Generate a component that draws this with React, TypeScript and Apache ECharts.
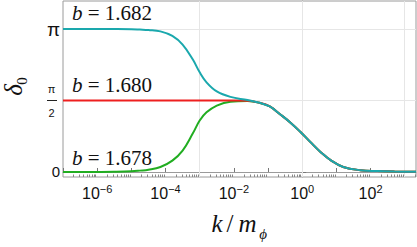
import React, { useEffect, useRef } from 'react';
import * as echarts from 'echarts';

// x values are log10(k / m_phi)
const logK = [-7, -6, -5.5, -5, -4.75, -4.5, -4.15, -3.8, -3.5, -3.2, -3.0, -2.8, -2.5, -2.1, -1.6, -1.25, -0.95, -0.65, -0.35, -0.05, 0.25, 0.55, 0.85, 1.2, 1.7, 2.2, 2.7, 3.33];
const deltaB1682 = [3.1416, 3.1414, 3.141, 3.138, 3.13, 3.12, 3.09, 2.99, 2.8, 2.47, 2.19, 1.97, 1.77, 1.65, 1.58, 1.52, 1.44, 1.27, 1.09, 0.88, 0.65, 0.43, 0.25, 0.11, 0.04, 0.02, 0.01, 0.005];
const deltaB1680 = [1.5708, 1.5708, 1.5708, 1.5708, 1.5708, 1.5708, 1.5708, 1.5708, 1.5708, 1.5708, 1.5708, 1.5706, 1.5703, 1.5695, 1.565, 1.52, 1.44, 1.27, 1.09, 0.88, 0.65, 0.43, 0.25, 0.11, 0.04, 0.02, 0.01, 0.005];
const deltaB1678 = [0, 0.002, 0.005, 0.015, 0.03, 0.05, 0.11, 0.25, 0.47, 0.85, 1.13, 1.31, 1.46, 1.545, 1.56, 1.52, 1.44, 1.27, 1.09, 0.88, 0.65, 0.43, 0.25, 0.11, 0.04, 0.02, 0.01, 0.005];

const curveNames = ['b = 1.682', 'b = 1.680', 'b = 1.678'];
const curveValues = ['1.682', '1.680', '1.678'];
const xLabelExps = [-6, -4, -2, 0, 2];
const decadeExps = [-7, -6, -5, -4, -3, -2, -1, 0, 1, 2, 3];
const minorMantissas = [2, 3, 4, 5, 6, 7, 8, 9];
const xGridExps = [-3, 0, 3];
const yTickValues = [0, Math.PI / 2, Math.PI];
const yGridValues = [Math.PI / 2, Math.PI];

const X_MIN = -7;
const X_MAX = 3.33;
const Y_MIN = -0.11;
const Y_MAX = 3.757;

const SANS = 'Liberation Sans';
const SERIF = 'Liberation Serif';

export default function App() {
  const ref = useRef<HTMLDivElement>(null);
  useEffect(() => {
    if (!ref.current) return;
    const chart = echarts.init(ref.current, null, { renderer: 'svg' });
    const minorTicks: number[] = [];
    decadeExps.forEach((d) => {
      minorMantissas.forEach((m) => {
        const v = d + Math.log10(m);
        if (v <= X_MAX) minorTicks.push(v);
      });
    });
    const pts = (ys: number[]) => logK.map((x, i) => [x, ys[i]]);
    const lineCommon = {
      type: 'line',
      showSymbol: false,
      symbol: 'none',
      smooth: 0.4,
      z: 3,
      emphasis: { disabled: true },
    };
    const annY = [13, 85, 158];
    const option: any = {
      animation: false,
      backgroundColor: '#fff',
      textStyle: { fontFamily: SANS },
      grid: {
        left: 63,
        right: 1,
        top: 1,
        bottom: 70,
        show: true,
        borderColor: '#9a9a9a',
        borderWidth: 1,
        containLabel: false,
        outerBoundsMode: 'none',
      },
      xAxis: [
        {
          type: 'value',
          min: X_MIN,
          max: X_MAX,
          axisLine: { show: true, lineStyle: { color: '#9a9a9a', width: 1 } },
          axisTick: { show: true, inside: true, length: 4, customValues: decadeExps, lineStyle: { color: '#777' } },
          axisLabel: {
            customValues: xLabelExps,
            margin: 6,
            fontFamily: SANS,
            formatter: (v: number) => `{b|10}{s|${v < 0 ? '\u2212' : ''}${Math.abs(Math.round(v))}}`,
            rich: {
              b: { fontFamily: SANS, fontSize: 16, color: '#111', lineHeight: 17, padding: [4, 0, 0, 0] },
              s: { fontFamily: SANS, fontSize: 11, color: '#111', verticalAlign: 'top', lineHeight: 10 },
            },
          },
          splitLine: { show: false },
        },
        {
          type: 'value',
          min: X_MIN,
          max: X_MAX,
          position: 'bottom',
          axisLine: { show: false },
          axisLabel: { show: false },
          axisTick: { show: true, inside: true, length: 2.5, customValues: minorTicks, lineStyle: { color: '#888' } },
          splitLine: { show: false },
        },
      ],
      yAxis: {
        type: 'value',
        min: Y_MIN,
        max: Y_MAX,
        axisLine: { show: true, lineStyle: { color: '#9a9a9a', width: 1 } },
        axisTick: { show: true, inside: true, length: 4, customValues: yTickValues, lineStyle: { color: '#777' } },
        axisLabel: {
          customValues: yTickValues,
          margin: 3,
          fontFamily: SANS,
          formatter: (v: number) => {
            if (Math.abs(v) < 1e-6) return '{a|0}';
            if (Math.abs(v - Math.PI) < 1e-6) return '{p|\u03c0}';
            return '{n|\u03c0}{sp|}\n{bar|}{sp|}\n{n|2}{sp|}';
          },
          rich: {
            a: { fontFamily: SANS, fontSize: 15, color: '#111' },
            p: { fontFamily: SANS, fontSize: 19, color: '#111' },
            n: { fontFamily: SANS, fontSize: 11, color: '#111', width: 11, align: 'center', lineHeight: 9 },
            bar: { width: 10, height: 1, lineHeight: 2, backgroundColor: '#222' },
            sp: { width: 3 },
          },
        },
        splitLine: { show: false },
      },
      series: [
        {
          ...lineCommon,
          name: curveNames[2],
          data: pts(deltaB1678),
          lineStyle: { color: '#21ad21', width: 2 },
          itemStyle: { color: '#21ad21' },
          markLine: {
            silent: true,
            z: 1,
            symbol: ['none', 'none'],
            label: { show: false },
            lineStyle: { color: '#e6e6e6', width: 1, type: 'solid' },
            emphasis: { disabled: true },
            data: [
              ...xGridExps.map((x) => ({ xAxis: x })),
              ...yGridValues.map((y) => ({ yAxis: y })),
            ],
          },
        },
        {
          ...lineCommon,
          name: curveNames[1],
          data: pts(deltaB1680),
          lineStyle: { color: '#ee1f1f', width: 2 },
          itemStyle: { color: '#ee1f1f' },
        },
        {
          ...lineCommon,
          name: curveNames[0],
          data: pts(deltaB1682),
          lineStyle: { color: '#1aa8ad', width: 2 },
          itemStyle: { color: '#1aa8ad' },
        },
      ],
      graphic: [
        ...curveValues.map((val, i) => ({
          type: 'text',
          x: 72,
          y: annY[i],
          z: 10,
          style: {
            text: `{i|b}{r| = ${val}}`,
            fontFamily: SERIF,
            fontSize: 21,
            fill: '#111',
            align: 'left',
            verticalAlign: 'middle',
            rich: {
              i: { fontFamily: SERIF, fontStyle: 'italic', fontSize: 21, fill: '#111' },
              r: { fontFamily: SERIF, fontSize: 21, fill: '#111' },
            },
          },
        })),
        {
          type: 'text',
          x: 234,
          y: 223,
          style: {
            text: '{i|k}{r|/}{i|m}',
            fontFamily: SERIF,
            fontSize: 25,
            align: 'center',
            verticalAlign: 'middle',
            fill: '#111',
            rich: {
              i: { fontFamily: SERIF, fontStyle: 'italic', fontSize: 25, fill: '#111' },
              r: { fontFamily: SERIF, fontSize: 25, fill: '#111', padding: [0, 5, 0, 4] },
            },
          },
        },
        {
          type: 'text',
          x: 263,
          y: 234,
          style: {
            text: '\u03d5',
            fontFamily: SERIF,
            fontStyle: 'italic',
            fontSize: 15,
            fill: '#111',
            align: 'center',
            verticalAlign: 'middle',
          },
        },
        {
          type: 'text',
          x: 13,
          y: 90,
          rotation: Math.PI / 2,
          style: {
            text: '\u03b4',
            fontFamily: SERIF,
            fontStyle: 'italic',
            fontSize: 25,
            fill: '#111',
            align: 'center',
            verticalAlign: 'middle',
          },
        },
        {
          type: 'text',
          x: 22,
          y: 81,
          rotation: Math.PI / 2,
          style: {
            text: '0',
            fontFamily: SERIF,
            fontSize: 15,
            fill: '#111',
            align: 'center',
            verticalAlign: 'middle',
          },
        },
      ],
    };
    chart.setOption(option);
    return () => chart.dispose();
  }, []);
  return (
    <div
      ref={ref}
      style={{ position: 'absolute', left: 0, top: 0, width: 417, height: 247, background: '#fff' }}
    />
  );
}
